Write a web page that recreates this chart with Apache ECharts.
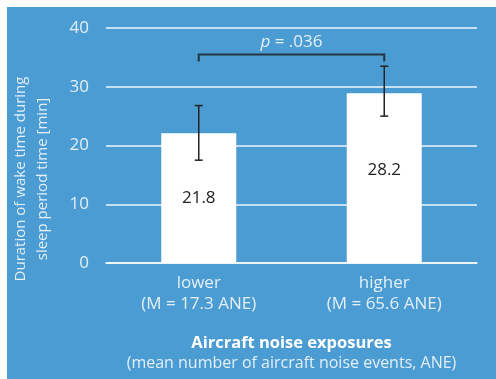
<!DOCTYPE html>
<html><head><meta charset="utf-8">
<script src="https://cdn.jsdelivr.net/npm/echarts@6/dist/echarts.min.js"></script>
<style>html,body{margin:0;padding:0;background:#fff}#c{position:absolute;left:7px;top:7px;width:489px;height:372px;background:#4b9cd3}</style>
</head><body><div id="c"></div>
<script>
const categories = ['lower\n(M = 17.3 ANE)', 'higher\n(M = 65.6 ANE)'];
const barValues = [22.1, 28.9];
const barLabels = ['21.8', '28.2'];
const errLow = [17.5, 25.0];
const errHigh = [26.8, 33.5];
const bracket = [[0, 1, 35.5, 34.3]];
const yTicks = [0, 10, 20, 30, 40];
const yTitle = 'Duration of wake time during\nsleep period time [min]';

const FONT = 'Open Sans';
const LIGHT = '#e4eff8';
const chart = echarts.init(document.getElementById('c'));
chart.setOption({
  animation: false,
  textStyle: { fontFamily: FONT },
  grid: { left: 99, right: 19, top: 21, bottom: 116, outerBoundsMode: 'none', containLabel: false },
  graphic: [{
    type: 'text', x: 25, y: 172, rotation: Math.PI / 2,
    style: { text: yTitle, align: 'center', verticalAlign: 'middle', fill: LIGHT,
      fontSize: 15, lineHeight: 22, fontFamily: FONT }
  }],
  xAxis: {
    type: 'category', data: categories,
    axisLine: { lineStyle: { color: 'rgba(255,255,255,0.9)', width: 1.5 } },
    axisTick: { show: false },
    axisLabel: { color: LIGHT, fontSize: 17, lineHeight: 21, margin: 10, fontFamily: FONT },
    name: '{b|Aircraft noise exposures}\n{n|(mean number of aircraft noise events, ANE)}',
    nameLocation: 'middle', nameGap: 70,
    nameTextStyle: { rich: {
      b: { fontWeight: 'bold', fontSize: 16.5, color: '#ffffff', lineHeight: 20, fontFamily: FONT },
      n: { fontSize: 16, color: LIGHT, lineHeight: 20, fontFamily: FONT }
    } }
  },
  yAxis: {
    type: 'value', min: yTicks[0], max: yTicks[yTicks.length - 1], interval: 10,
    axisLine: { show: false }, axisTick: { show: false },
    axisLabel: { color: LIGHT, fontSize: 17, margin: 17, fontFamily: FONT },
    splitLine: { lineStyle: { color: 'rgba(255,255,255,0.9)', width: 1.5 } }
  },
  series: [
    {
      type: 'bar', barWidth: 75,
      data: barValues.map((v, i) => ({ value: v, label: { offset: [0, i === 1 ? -8 : 0] } })),
      itemStyle: { color: '#ffffff' },
      label: {
        show: true, position: 'inside', color: '#222', fontSize: 17, fontFamily: FONT,
        formatter: p => barLabels[p.dataIndex]
      },
      z: 2
    },
    {
      type: 'custom', z: 5,
      data: errLow.map((l, i) => [i, l, errHigh[i]]),
      renderItem: (params, api) => {
        const lo = api.coord([api.value(0), api.value(1)]);
        const hi = api.coord([api.value(0), api.value(2)]);
        const w = 4;
        const st = { stroke: '#222', lineWidth: 1.5 };
        return { type: 'group', children: [
          { type: 'line', shape: { x1: lo[0], y1: lo[1], x2: hi[0], y2: hi[1] }, style: st },
          { type: 'line', shape: { x1: lo[0] - w, y1: lo[1], x2: lo[0] + w, y2: lo[1] }, style: st },
          { type: 'line', shape: { x1: hi[0] - w, y1: hi[1], x2: hi[0] + w, y2: hi[1] }, style: st }
        ] };
      }
    },
    {
      type: 'custom', z: 5,
      data: bracket,
      renderItem: (params, api) => {
        const a0 = api.coord([api.value(0), api.value(3)]);
        const a1 = api.coord([api.value(0), api.value(2)]);
        const b1 = api.coord([api.value(1), api.value(2)]);
        const b0 = api.coord([api.value(1), api.value(3)]);
        return { type: 'group', children: [
          { type: 'polyline', shape: { points: [a0, a1, b1, b0] },
            style: { stroke: '#27343e', lineWidth: 2, fill: null } },
          { type: 'text', x: (a1[0] + b1[0]) / 2, y: a1[1] - 12,
            style: { text: '{i|p}{r| = .036}', align: 'center', verticalAlign: 'middle',
              rich: { i: { fontStyle: 'italic', fontSize: 17, fill: LIGHT, fontFamily: FONT },
                      r: { fontSize: 17, fill: LIGHT, fontFamily: FONT } } } }
        ] };
      }
    }
  ]
});
</script></body></html>
